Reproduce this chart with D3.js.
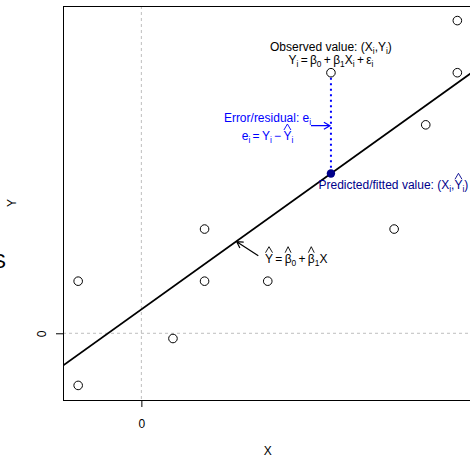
<!DOCTYPE html>
<html>
<head>
<meta charset="utf-8">
<script src="https://cdn.jsdelivr.net/npm/d3@7"></script>
<style>
  body { margin: 0; background: #fff; }
  svg { display: block; font-family: "Liberation Sans", Arial, sans-serif; }
</style>
</head>
<body>
<div id="chart"></div>
<script>
const xVals = [-2, -2, 1, 2, 2, 4, 6, 8, 9, 10, 10];
const yVals = [2, -2, -0.2, 4, 2, 2, 10, 4, 8, 12, 10];
const focusIndex = 6; // the point whose residual is annotated
const xTicks = [0];
const yTicks = [0];

const width = 470, height = 456;
const plot = {left: 63, right: 472.5, top: 6, bottom: 400};

const x = d3.scaleLinear().domain([-2.48, 10.48]).range([plot.left, plot.right]);
const y = d3.scaleLinear().domain([-2.56, 12.56]).range([plot.bottom, plot.top]);

// least squares fit
const mx = d3.mean(xVals), my = d3.mean(yVals);
const b1 = d3.sum(xVals, (d, i) => (d - mx) * (yVals[i] - my)) / d3.sum(xVals, d => (d - mx) ** 2);
const b0 = my - b1 * mx;
const fit = v => b0 + b1 * v;

const svg = d3.select("#chart").append("svg")
    .attr("width", width)
    .attr("height", height);

svg.append("clipPath").attr("id", "clip")
    .append("rect")
    .attr("x", plot.left).attr("y", plot.top)
    .attr("width", plot.right - plot.left).attr("height", plot.bottom - plot.top);

// reference lines at zero
const refs = svg.append("g")
    .attr("stroke", "#bebebe")
    .attr("stroke-dasharray", "3,3")
    .attr("clip-path", "url(#clip)");
refs.append("line")
    .attr("x1", x(0)).attr("x2", x(0))
    .attr("y1", plot.top).attr("y2", plot.bottom);
refs.append("line")
    .attr("x1", plot.left).attr("x2", plot.right)
    .attr("y1", y(0)).attr("y2", y(0));

// fitted line
const [d0, d1] = x.domain();
svg.append("line")
    .attr("clip-path", "url(#clip)")
    .attr("x1", x(d0)).attr("y1", y(fit(d0)))
    .attr("x2", x(d1)).attr("y2", y(fit(d1)))
    .attr("stroke", "black")
    .attr("stroke-width", 1.8);

// residual
const fx = xVals[focusIndex];
svg.append("line")
    .attr("x1", x(fx)).attr("x2", x(fx))
    .attr("y1", y(yVals[focusIndex]) + 5)
    .attr("y2", y(fit(fx)))
    .attr("stroke", "blue")
    .attr("stroke-width", 2)
    .attr("stroke-dasharray", "2,3.5");

// frame
svg.append("rect")
    .attr("x", plot.left + 0.5).attr("y", plot.top + 0.5)
    .attr("width", plot.right - plot.left).attr("height", plot.bottom - plot.top)
    .attr("fill", "none")
    .attr("stroke", "black");

// axes
const xAxis = d3.axisBottom(x).tickValues(xTicks).tickSize(7).tickPadding(12).tickFormat(d3.format("d"));
const gx = svg.append("g").attr("transform", `translate(0,${plot.bottom})`).call(xAxis);
gx.select(".domain").remove();
gx.selectAll("text").style("font-size", "12px").style("font-family", "Liberation Sans, Arial, sans-serif");

const yAxis = d3.axisLeft(y).tickValues(yTicks).tickSize(7).tickFormat(d3.format("d"));
const gy = svg.append("g").attr("transform", `translate(${plot.left},0)`).call(yAxis);
gy.select(".domain").remove();
gy.selectAll("text")
    .style("font-size", "12px").style("font-family", "Liberation Sans, Arial, sans-serif")
    .attr("text-anchor", "middle")
    .attr("dy", null)
    .attr("x", null)
    .attr("transform", "translate(-17.5,0) rotate(-90)")
    .attr("y", 0);

svg.append("text")
    .attr("x", x(4)).attr("y", 455)
    .attr("text-anchor", "middle")
    .style("font-size", "12px")
    .text("X");
svg.append("text")
    .attr("transform", `translate(16,${y(5)}) rotate(-90)`)
    .attr("text-anchor", "middle")
    .style("font-size", "12px")
    .text("Y");

// clipped glyph at left margin
svg.append("text")
    .attr("x", 6).attr("y", 268)
    .attr("text-anchor", "end")
    .style("font-size", "21px")
    .text("S");

// points
svg.append("g")
    .selectAll("circle")
    .data(xVals.map((d, i) => [d, yVals[i]]))
    .join("circle")
    .attr("cx", d => x(d[0]))
    .attr("cy", d => y(d[1]))
    .attr("r", 4.3)
    .attr("fill", "none")
    .attr("stroke", "black");

svg.append("circle")
    .attr("cx", x(fx)).attr("cy", y(fit(fx)))
    .attr("r", 4.2)
    .attr("fill", "darkblue");

// text with subscripts, hats and tightly spaced operators
function mathText(g, px, py, parts, opt = {}) {
    const size = opt.size || 12;
    const fill = opt.fill || "black";
    const gap = 2.3;
    const t = g.append("text")
        .attr("x", px).attr("y", py)
        .attr("text-anchor", opt.anchor || "middle")
        .attr("fill", fill)
        .style("font-size", size + "px");
    let shift = 0, idx = 0, pad = 0;
    const hats = [];
    parts.forEach(p => {
        const s = typeof p === "string" ? {t: p} : p;
        const txt = s.op || s.t;
        const off = s.sub ? 3 : 0;
        const ts = t.append("tspan").attr("dy", off - shift).text(txt);
        if (pad || s.op) ts.attr("dx", pad + (s.op ? gap : 0));
        pad = s.op ? gap : 0;
        shift = off;
        if (s.sub) ts.style("font-size", (size * 0.7) + "px");
        if (s.hat) hats.push(idx);
        idx += txt.length;
    });
    const node = t.node();
    hats.forEach(i => {
        const a = node.getStartPositionOfChar(i);
        const b = node.getEndPositionOfChar(i);
        const mid = (a.x + b.x) / 2, hw = (b.x - a.x) / 2 - 0.5;
        g.append("path")
            .attr("d", `M${mid - hw},${a.y - 10}L${mid},${a.y - 16}L${mid + hw},${a.y - 10}`)
            .attr("fill", "none")
            .attr("stroke", fill)
            .attr("stroke-width", 0.9);
    });
    return t;
}

function arrow(g, x1, y1, x2, y2, color) {
    const ang = Math.atan2(y2 - y1, x2 - x1), len = 7, spread = Math.PI / 6;
    g.append("path")
        .attr("d", `M${x1},${y1}L${x2},${y2}` +
            `M${x2 - len * Math.cos(ang - spread)},${y2 - len * Math.sin(ang - spread)}L${x2},${y2}` +
            `L${x2 - len * Math.cos(ang + spread)},${y2 - len * Math.sin(ang + spread)}`)
        .attr("fill", "none")
        .attr("stroke", color)
        .attr("stroke-width", 1.2);
}

const ann = svg.append("g");
const sub = v => ({t: v, sub: true});
const hat = v => ({t: v, hat: true});
const op = v => ({op: v});

mathText(ann, x(fx), 51, ["Observed value: (X", sub("i"), ",Y", sub("i"), ")"]);
mathText(ann, x(fx), 64, ["Y", sub("i"), op("="), "β", sub("0"), op("+"), "β", sub("1"),
    "X", sub("i"), op("+"), "ε", sub("i")]);

mathText(ann, 267.5, 121.5, ["Error/residual: e", sub("i")], {fill: "blue"});
mathText(ann, 267.5, 140, ["e", sub("i"), op("="), "Y", sub("i"), op("−"), hat("Y"), sub("i")], {fill: "blue"});
arrow(ann, 311, 125.7, x(fx) - 1, 125.7, "blue");

mathText(ann, 318.5, 189.3, ["Predicted/fitted value: (X", sub("i"), ",", hat("Y"), sub("i"), ")"],
    {anchor: "start", fill: "darkblue"});

arrow(ann, 258.3, 255.7, 236.7, 241.7, "black");
mathText(ann, 265, 262.7, [hat("Y"), op("="), hat("β"), sub("0"), op("+"), hat("β"), sub("1"), "X"],
    {anchor: "start"});
</script>
</body>
</html>
